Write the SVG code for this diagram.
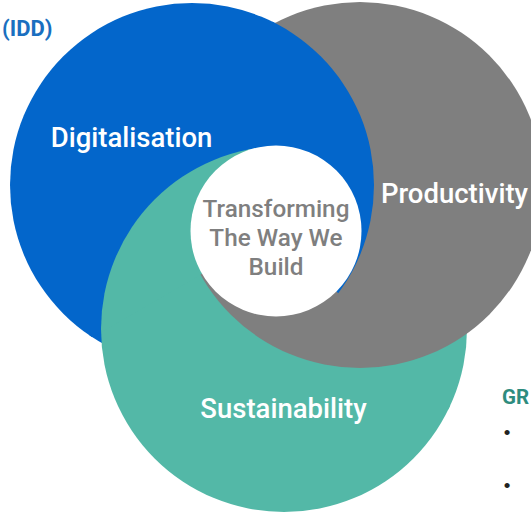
<svg xmlns="http://www.w3.org/2000/svg" width="531" height="512" viewBox="0 0 531 512">
<style>
.lbl{font-family:Roboto,"Liberation Sans",sans-serif;font-weight:500;fill:#ffffff;text-anchor:middle;font-size:27.5px}
.ctr{font-family:Roboto,"Liberation Sans",sans-serif;font-weight:500;fill:#7f7f7f;text-anchor:middle;font-size:24.3px}
.blue{fill:#0366CB}
.gray{fill:#7F7F7F}
.teal{fill:#53B8A7}
.hdr{font-family:Roboto,"Liberation Sans",sans-serif;font-weight:700}
.bul{font-family:"Liberation Sans",sans-serif;font-size:19px;fill:#222222;text-anchor:middle}
.w{fill:#ffffff}
</style>
<defs>
<circle id="cirB" cx="192" cy="185" r="182"/>
<circle id="cirG" cx="360" cy="185" r="183"/>
<circle id="cirT" cx="284" cy="329" r="183"/>
<mask id="mBlue" maskUnits="userSpaceOnUse" x="-1200" y="-1200" width="3000" height="3000"><polygon class="w" points="276,231 262.04,-568.88 841.7,-334.7 1076,231 831.7,806.5"/></mask>
<mask id="mGray" maskUnits="userSpaceOnUse" x="-1200" y="-1200" width="3000" height="3000"><polygon class="w" points="276,231 841.7,796.7 164.7,1023.2 -423.7,618.9"/></mask>
<mask id="mTeal" maskUnits="userSpaceOnUse" x="-1200" y="-1200" width="3000" height="3000"><polygon class="w" points="276,231 -416.8,631 -416.8,-169 276,-569"/></mask>
</defs>
<rect width="531" height="512" fill="#ffffff"/>
<g id="venn-shapes">
<g mask="url(#mBlue)">
<use href="#cirT" class="teal"/>
<use href="#cirG" class="gray"/>
<use href="#cirB" class="blue"/>
</g>
<g mask="url(#mGray)">
<use href="#cirB" class="blue"/>
<use href="#cirT" class="teal"/>
<use href="#cirG" class="gray"/>
</g>
<g mask="url(#mTeal)">
<use href="#cirG" class="gray"/>
<use href="#cirB" class="blue"/>
<use href="#cirT" class="teal"/>
</g>
</g>
<g id="digitalisation">
<text class="lbl" x="131.5" y="147">Digitalisation</text>
</g>
<g id="productivity">
<text class="lbl" x="454.5" y="203">Productivity</text>
</g>
<g id="sustainability">
<text class="lbl" x="283.5" y="418">Sustainability</text>
</g>
<g id="core">
<circle cx="276" cy="231" r="85.5" fill="#ffffff"/>
<text class="ctr" x="276" y="217">Transforming</text>
<text class="ctr" x="276" y="246">The Way We</text>
<text class="ctr" x="276" y="275">Build</text>
</g>
<g id="idd-label">
<text class="hdr" x="2" y="36" fill="#1A6FC0" font-size="22">(IDD)</text>
</g>
<g id="gr-list">
<text class="hdr" x="502" y="404" fill="#2E8C7E" font-size="20.5">GR</text>
<text class="bul" x="507" y="438.5">•</text>
<text class="bul" x="507" y="491.5">•</text>
</g>
</svg>
